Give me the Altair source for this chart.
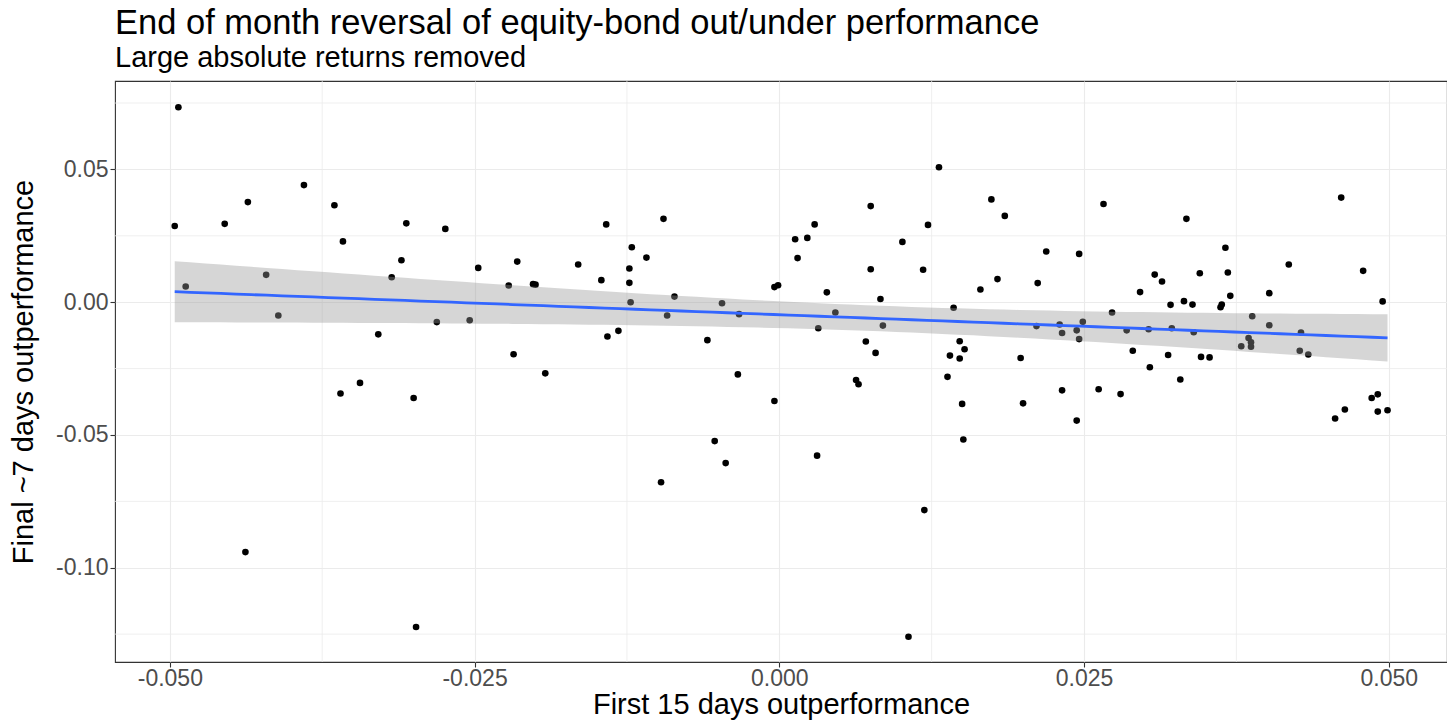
import altair as alt
import numpy as np
import pandas as pd

# First 15 days outperformance (x) and final ~7 days outperformance (y), in units of 0.001
first15 = [
    -49.6, -49.3, -48.7, -45.5, -43.6, -43.8, -42.1, -41.1, -39.0, -36.5,
    -35.8, -36.0, -34.4, -32.9, -31.8, -31.0, -30.6, -30.0, -29.8, -28.1,
    -27.4, -25.4, -24.7, -22.2, -21.5, -21.8, -20.2, -20.0, -19.2,
    -16.5, -14.2, -14.6, -14.1, -13.2, -12.1, -12.3, -12.3, -12.2, -10.9,
    -9.5, -9.2, -8.6, -5.9, -4.7, -3.3, -0.4, -0.1, 1.3, 2.3,
    1.5, 2.9, 3.9, 3.2, 4.6, 7.5, 7.5, 8.3, 8.5, 7.1,
    7.9, 10.1, 12.2, 11.8, 13.1, 14.3, 14.8, 15.2, 14.0, 14.8,
    16.5, 17.4, 17.9,
    -3.4, -0.4, -5.3, -4.4, -9.7, 3.1, 6.3, 6.5, 13.8, 15.0,
    15.1, 11.9, 10.6,
    18.5, 19.8, 21.9, 21.2, 21.1, 23.0, 23.2, 24.4, 24.6, 24.6,
    24.9, 26.6, 27.3, 28.5, 29.0, 29.6, 30.3, 30.4, 30.8, 31.4,
    31.9, 32.1, 32.2, 33.2, 33.4, 33.9, 34.0, 34.5, 34.6, 35.3,
    36.2, 36.3, 36.6, 36.8, 37.0, 37.9, 38.5, 38.7, 38.7, 38.8,
    40.2, 40.2, 41.8, 42.7, 42.8, 43.4, 46.1, 47.9, 49.5,
    20.0, 23.2, 24.4, 26.2, 28.0, 32.9, 45.6, 46.4, 48.6, 49.1,
    49.1, 49.9,
]
final7 = [
    28.7, 73.4, 5.9, 29.5, 37.7, -94.1, 10.3, -5.0, 44.1, 36.5,
    22.9, -34.4, -30.4, -12.1, 9.4, 15.8, 29.7, -36.1, -122.3, -7.5,
    27.6, -6.8, 12.9, 6.3, 15.3, -19.6, 6.8, 6.6, -26.8,
    14.2, 29.3, 8.3, -12.9, -10.8, 20.7, 12.7, 7.3, 0.0, 16.8,
    31.4, -5.0, 2.1, -14.3, -0.4, -4.5, 5.7, 6.4, 23.7, 24.2,
    16.6, 29.3, 3.7, -9.8, -3.9, 36.2, 12.4, 1.2, -8.8, -14.8,
    -19.1, 22.7, 29.1, 12.2, 50.8, -2.1, -14.7, -17.7, -20.1, -21.2,
    4.8, 38.7, 8.7,
    -27.2, -37.2, -52.3, -60.6, -67.8, -57.8, -29.3, -30.9, -28.1, -38.3,
    -51.7, -78.3, -126.0,
    32.5, -21.0, 19.1, 7.2, -9.0, -8.4, -11.6, -10.6, 18.2, -13.9,
    -7.4, 37.0, -3.9, -10.6, -18.3, 3.8, -10.2, -24.5, 10.4, 7.8,
    -19.9, -1.0, -9.8, 0.4, 31.4, -0.9, -11.3, 10.9, -20.6, -20.8,
    -1.9, -0.9, 20.5, 11.2, 2.4, -16.6, -13.5, -15.1, -16.8, -5.3,
    -8.7, 3.4, 14.2, -18.3, -11.4, -19.7, 39.4, 11.8, 0.3,
    -38.1, -33.2, -44.6, -32.8, -34.6, -29.1, -43.8, -40.4, -36.1, -34.7,
    -41.2, -40.7,
]

x_major = [-0.050, -0.025, 0.0, 0.025, 0.050]
x_minor = [-0.0375, -0.0125, 0.0125, 0.0375]
y_major = [-0.10, -0.05, 0.0, 0.05]
y_minor = [-0.125, -0.075, -0.025, 0.025, 0.075]

title_text = "End of month reversal of equity-bond out/under performance"
subtitle_text = "Large absolute returns removed"
x_title = "First 15 days outperformance"
y_title = "Final ~7 days outperformance"

xs = np.array(first15) / 1000.0
ys = np.array(final7) / 1000.0
pts = pd.DataFrame({"x": xs, "y": ys})

# linear fit with 95% confidence band (as geom_smooth(method="lm"))
n = len(xs)
b, a = np.polyfit(xs, ys, 1)
resid = ys - (a + b * xs)
s = np.sqrt(np.sum(resid ** 2) / (n - 2))
sxx = np.sum((xs - xs.mean()) ** 2)
tq = 1.9766
grid = np.linspace(xs.min(), xs.max(), 80)
fit = a + b * grid
se = s * np.sqrt(1.0 / n + (grid - xs.mean()) ** 2 / sxx)
band = pd.DataFrame({"x": grid, "fit": fit, "lo": fit - tq * se, "hi": fit + tq * se})

FONT = "Liberation Sans"

xscale = alt.Scale(domain=[-0.0545, 0.05478], nice=False, zero=False)
yscale = alt.Scale(domain=[-0.1355, 0.0833], nice=False, zero=False)

xaxis = alt.Axis(
    values=x_major, title=x_title,
    labelExpr="replace(format(datum.value, '.3f'), '\u2212', '-')",
)
yaxis = alt.Axis(
    values=y_major, title=y_title,
    labelExpr="replace(format(datum.value, '.2f'), '\u2212', '-')",
)

def X(field="x"):
    return alt.X(f"{field}:Q", scale=xscale, axis=xaxis)

def Y(field):
    return alt.Y(f"{field}:Q", scale=yscale, axis=yaxis)

minor_x = alt.Chart(pd.DataFrame({"x": x_minor})).mark_rule(
    color="#EBEBEB", strokeWidth=0.8
).encode(x=X())
minor_y = alt.Chart(pd.DataFrame({"y": y_minor})).mark_rule(
    color="#EBEBEB", strokeWidth=0.8
).encode(y=Y("y"))

points = alt.Chart(pts).mark_circle(size=44, color="black", opacity=1).encode(
    x=X(), y=Y("y")
)

area = alt.Chart(band).mark_area(color="#999999", opacity=0.4).encode(
    x=X(), y=Y("lo"), y2="hi:Q"
)
line = alt.Chart(band).mark_line(color="#3366FF", strokeWidth=2.8).encode(
    x=X(), y=Y("fit")
)

chart = (
    alt.layer(minor_x, minor_y, points, area, line)
    .properties(
        width=1332,
        height=581,
        autosize=alt.AutoSizeParams(type="none"),
        padding={"left": 107, "top": 73, "right": 0, "bottom": 58},
        title=alt.Title(
            title_text,
            subtitle=subtitle_text,
            anchor="start",
            frame="group",
            font=FONT,
            fontSize=34.5,
            fontWeight="normal",
            color="black",
            subtitleFont=FONT,
            subtitleFontSize=29,
            subtitleColor="black",
            subtitlePadding=2,
            offset=7,
        ),
    )
    .configure_view(stroke="#333333", strokeWidth=1.1)
    .configure_axis(
        grid=True,
        gridColor="#EBEBEB",
        gridWidth=1.1,
        domain=False,
        tickColor="#333333",
        tickSize=5,
        tickWidth=1.1,
        labelFont=FONT,
        labelFontSize=23,
        labelColor="#4D4D4D",
        labelPadding=2,
        titleFont=FONT,
        titleFontSize=29,
        titleFontWeight="normal",
        titleColor="black",
    )
    .configure_axisX(labelPadding=0, titlePadding=0)
    .configure_axisY(titlePadding=17)
)

chart.save("out.html", embed_options={"renderer": "svg", "actions": False})
